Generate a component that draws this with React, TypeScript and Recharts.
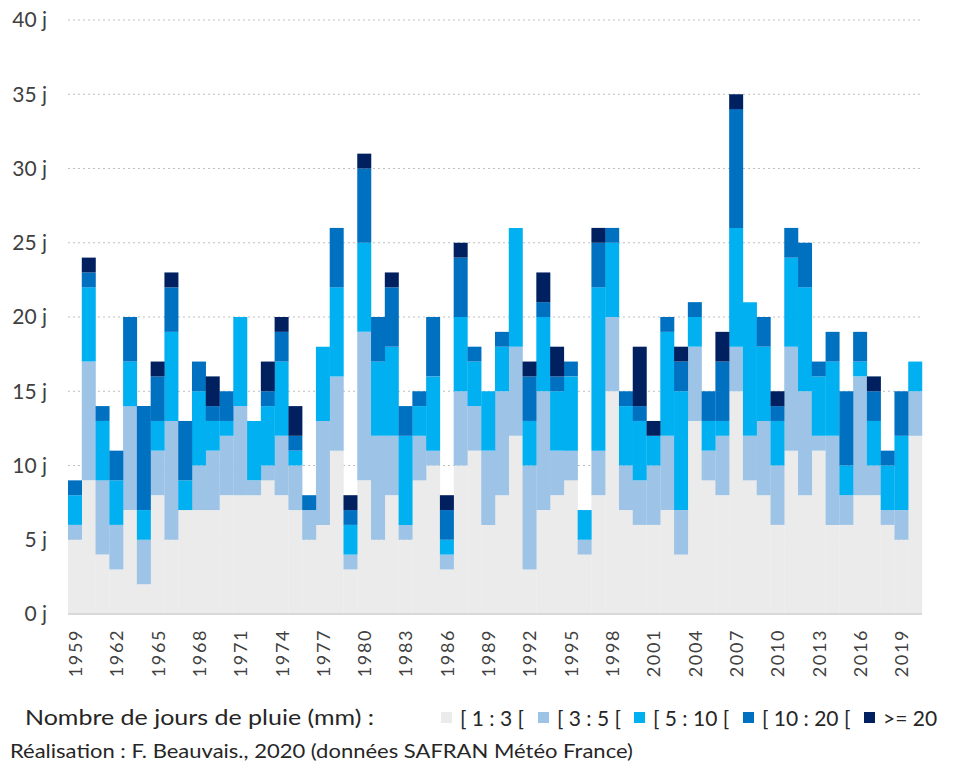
import React from "react";
import { BarChart, Bar, XAxis, YAxis, CartesianGrid } from "recharts";

const FONT = "Lato, 'Open Sans', sans-serif";
const INK = "#404040";

const YEARS = [
  "1959", "1960", "1961", "1962", "1963", "1964", "1965", "1966", "1967", "1968",
  "1969", "1970", "1971", "1972", "1973", "1974", "1975", "1976", "1977", "1978",
  "1979", "1980", "1981", "1982", "1983", "1984", "1985", "1986", "1987", "1988",
  "1989", "1990", "1991", "1992", "1993", "1994", "1995", "1996", "1997", "1998",
  "1999", "2000", "2001", "2002", "2003", "2004", "2005", "2006", "2007", "2008",
  "2009", "2010", "2011", "2012", "2013", "2014", "2015", "2016", "2017", "2018",
  "2019", "2020",
];

// days per class, one entry per year
const R1_3 = [
  5, 9, 4, 3, 7, 2, 8, 5, 7, 7,
  7, 8, 8, 8, 9, 8, 7, 5, 6, 11,
  3, 9, 5, 8, 5, 9, 10, 3, 10, 11,
  6, 8, 12, 3, 7, 8, 9, 4, 8, 15,
  7, 6, 6, 7, 4, 13, 9, 8, 15, 9,
  8, 6, 11, 8, 11, 6, 6, 8, 8, 6,
  5, 12,
];
const R3_5 = [
  1, 8, 5, 3, 7, 3, 3, 8, 0, 3,
  4, 4, 6, 1, 1, 4, 3, 2, 7, 5,
  1, 10, 7, 4, 1, 3, 1, 1, 5, 3,
  5, 7, 6, 7, 8, 3, 2, 1, 3, 5,
  3, 3, 4, 5, 3, 5, 2, 4, 3, 3,
  5, 4, 7, 7, 1, 6, 2, 8, 2, 1,
  2, 3,
];
const R5_10 = [
  2, 5, 4, 3, 3, 2, 2, 6, 2, 5,
  2, 1, 6, 4, 4, 5, 1, 0, 5, 6,
  2, 6, 5, 6, 6, 2, 5, 1, 5, 3,
  4, 3, 8, 3, 5, 4, 5, 2, 11, 5,
  4, 4, 2, 7, 8, 2, 2, 1, 8, 9,
  5, 3, 6, 7, 4, 5, 2, 1, 3, 3,
  5, 2,
];
const R10_20 = [
  1, 1, 1, 2, 3, 7, 3, 3, 4, 2,
  1, 2, 0, 0, 1, 2, 1, 1, 0, 4,
  1, 5, 3, 4, 2, 1, 4, 2, 4, 1,
  0, 1, 0, 3, 1, 1, 1, 0, 3, 1,
  1, 1, 0, 1, 2, 1, 2, 4, 8, 0,
  2, 1, 2, 3, 1, 2, 5, 2, 2, 1,
  3, 0,
];
const R20 = [
  0, 1, 0, 0, 0, 0, 1, 1, 0, 0,
  2, 0, 0, 0, 2, 1, 2, 0, 0, 0,
  1, 1, 0, 1, 0, 0, 0, 1, 1, 0,
  0, 0, 0, 1, 2, 2, 0, 0, 1, 0,
  0, 4, 1, 0, 1, 0, 0, 2, 1, 0,
  0, 1, 0, 0, 0, 0, 0, 0, 1, 0,
  0, 0,
];

const Y_TICKS = [0, 5, 10, 15, 20, 25, 30, 35, 40];

const SERIES = [
  { key: "r1", label: "[ 1 : 3 [", color: "#EBEBEB" },
  { key: "r2", label: "[ 3 : 5 [", color: "#9DC3E6" },
  { key: "r3", label: "[ 5 : 10 [", color: "#00B0F0" },
  { key: "r4", label: "[ 10 : 20 [", color: "#0070C0" },
  { key: "r5", label: ">= 20", color: "#002060" },
];

const data = YEARS.map((year, i) => ({
  year,
  r1: R1_3[i],
  r2: R3_5[i],
  r3: R5_10[i],
  r4: R10_20[i],
  r5: R20[i],
}));

// legend swatch x positions (px)
const LEGEND_X = [441, 538, 634, 743, 864];

function YearTick({ x, y, payload }: any) {
  const ty = y + 7;
  return (
    <text
      x={x}
      y={ty}
      transform={`rotate(-90 ${x} ${ty})`}
      textAnchor="end"
      dominantBaseline="central"
      fontFamily={FONT}
      fontSize={18}
      letterSpacing={1.6}
      fill={INK}
    >
      {payload.value}
    </text>
  );
}

export default function App() {
  return (
    <div style={{ position: "relative", width: 953, height: 769, background: "#fff", fontFamily: FONT }}>
      <style>{`body{margin:0}`}</style>
      <BarChart
        width={953}
        height={690}
        data={data}
        barCategoryGap={0}
        margin={{ top: 20, right: 31, left: 8, bottom: 0 }}
      >
        <CartesianGrid vertical={false} stroke="#bfbfbf" strokeDasharray="2 3" />
        <XAxis
          dataKey="year"
          interval={2}
          tickLine={false}
          axisLine={{ stroke: "#d9d9d9", strokeWidth: 2 }}
          height={76}
          tick={<YearTick />}
        />
        <YAxis
          width={60}
          domain={[0, 40]}
          ticks={Y_TICKS}
          axisLine={false}
          tickLine={false}
          tickMargin={15}
          tickFormatter={(v) => `${v} j`}
          tick={{ fontSize: 21, fill: INK, fontFamily: FONT }}
        />
        {SERIES.map((s) => (
          <Bar key={s.key} dataKey={s.key} stackId="a" fill={s.color} isAnimationActive={false} />
        ))}
      </BarChart>
      <div
        style={{
          position: "absolute", left: 25, top: 704, fontSize: 21, lineHeight: "26px", color: "#262626",
          whiteSpace: "nowrap", transform: "scaleX(1.19)", transformOrigin: "left center",
        }}
      >
        Nombre de jours de pluie (mm) :
      </div>
      {SERIES.map((s, i) => (
        <div
          key={s.key}
          style={{
            position: "absolute", left: LEGEND_X[i], top: 704, height: 26, display: "flex",
            alignItems: "center", fontSize: 21, color: "#262626", whiteSpace: "nowrap",
          }}
        >
          <span style={{ display: "inline-block", width: 11, height: 11, background: s.color, marginRight: 8 }} />
          <span>{s.label}</span>
        </div>
      ))}
      <div
        style={{
          position: "absolute", left: 10, top: 737, fontSize: 20, lineHeight: "26px", color: "#262626",
          whiteSpace: "nowrap", transform: "scaleX(1.1)", transformOrigin: "left center",
        }}
      >
        Réalisation : F. Beauvais., 2020 (données SAFRAN Météo France)
      </div>
    </div>
  );
}
